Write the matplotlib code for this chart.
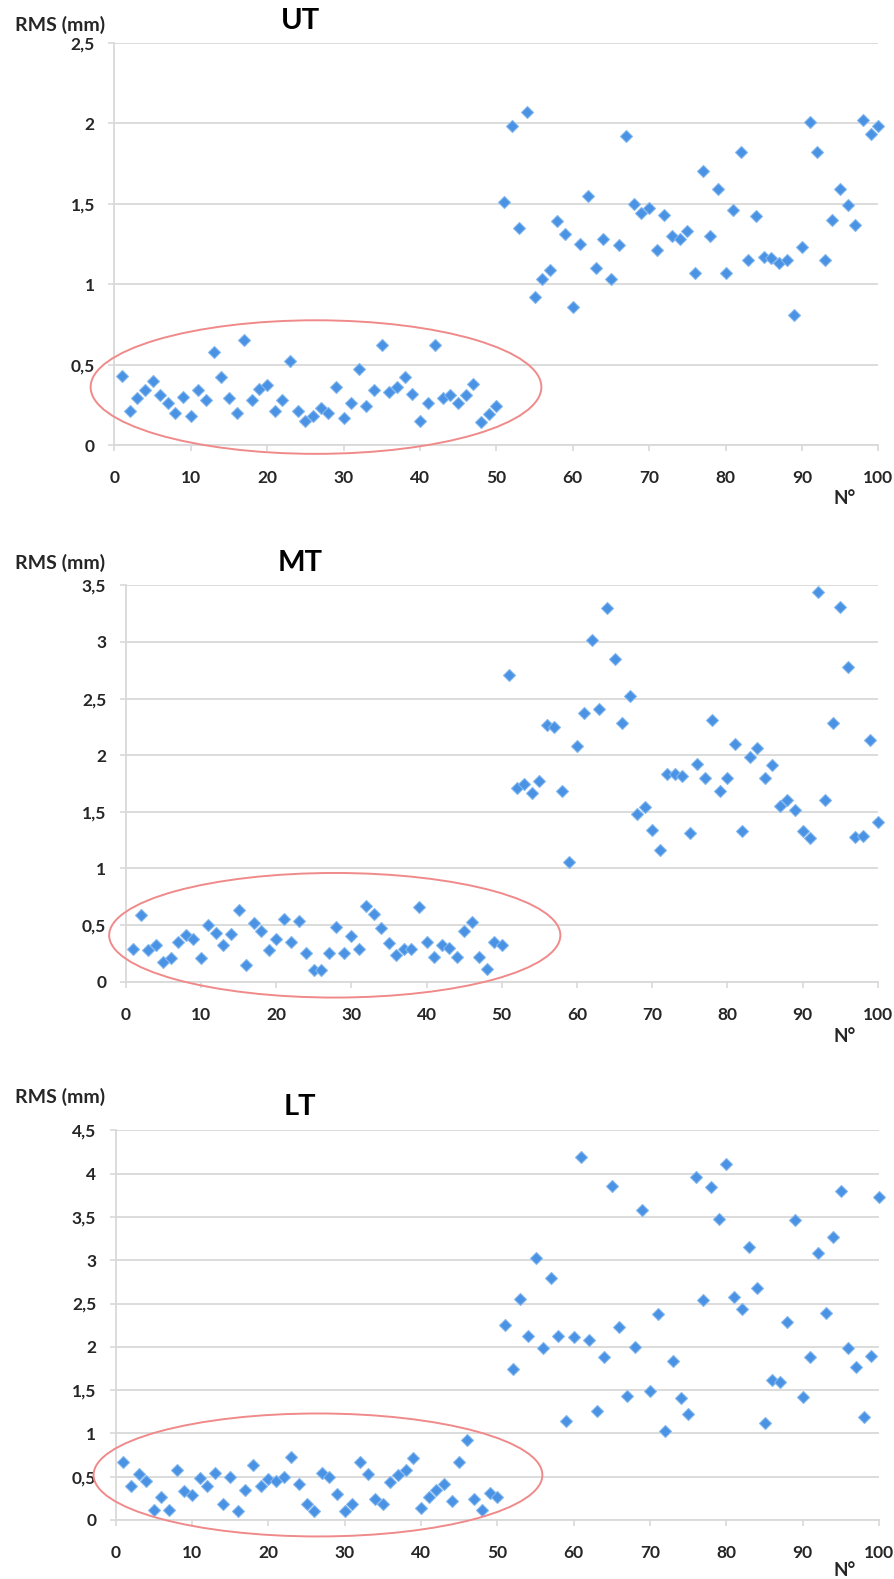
import matplotlib
matplotlib.use('Agg')
import matplotlib.pyplot as plt
from matplotlib.patches import Ellipse

plt.rcParams['font.family'] = ['Lato', 'DejaVu Sans']

N = list(range(1, 101))

ut_rms = [0.43, 0.21, 0.29, 0.34, 0.40, 0.31, 0.26, 0.20, 0.30, 0.18,
          0.34, 0.28, 0.58, 0.42, 0.29, 0.20, 0.65, 0.28, 0.35, 0.37,
          0.21, 0.28, 0.52, 0.21, 0.15, 0.18, 0.23, 0.20, 0.36, 0.17,
          0.26, 0.47, 0.24, 0.34, 0.62, 0.33, 0.36, 0.42, 0.32, 0.15,
          0.26, 0.62, 0.29, 0.31, 0.26, 0.31, 0.38, 0.14, 0.19, 0.24,
          1.51, 1.98, 1.35, 2.07, 0.92, 1.03, 1.09, 1.39, 1.31, 0.86,
          1.25, 1.55, 1.10, 1.28, 1.03, 1.24, 1.92, 1.50, 1.44, 1.47,
          1.21, 1.43, 1.30, 1.28, 1.33, 1.07, 1.70, 1.30, 1.59, 1.07,
          1.46, 1.82, 1.15, 1.42, 1.17, 1.16, 1.13, 1.15, 0.81, 1.23,
          2.01, 1.82, 1.15, 1.40, 1.59, 1.49, 1.37, 2.02, 1.93, 1.98]

mt_rms = [0.29, 0.59, 0.28, 0.32, 0.17, 0.21, 0.35, 0.41, 0.38, 0.21,
          0.50, 0.43, 0.32, 0.42, 0.63, 0.15, 0.52, 0.45, 0.28, 0.38,
          0.55, 0.35, 0.54, 0.25, 0.10, 0.10, 0.25, 0.48, 0.25, 0.40,
          0.29, 0.67, 0.60, 0.47, 0.34, 0.24, 0.29, 0.29, 0.66, 0.35,
          0.22, 0.32, 0.30, 0.22, 0.45, 0.53, 0.22, 0.11, 0.35, 0.32,
          2.71, 1.71, 1.75, 1.67, 1.77, 2.27, 2.25, 1.68, 1.06, 2.08,
          2.37, 3.02, 2.41, 3.30, 2.85, 2.28, 2.52, 1.48, 1.54, 1.34,
          1.16, 1.83, 1.83, 1.82, 1.31, 1.92, 1.80, 2.31, 1.68, 1.80,
          2.10, 1.33, 1.98, 2.06, 1.80, 1.91, 1.55, 1.60, 1.52, 1.33,
          1.27, 3.44, 1.60, 2.28, 3.31, 2.78, 1.28, 1.29, 2.13, 1.41]

lt_rms = [0.67, 0.39, 0.53, 0.45, 0.11, 0.26, 0.12, 0.58, 0.33, 0.29,
          0.49, 0.39, 0.54, 0.19, 0.50, 0.10, 0.35, 0.63, 0.39, 0.47,
          0.45, 0.50, 0.73, 0.42, 0.19, 0.10, 0.54, 0.50, 0.30, 0.10,
          0.19, 0.67, 0.53, 0.24, 0.19, 0.44, 0.52, 0.58, 0.72, 0.14,
          0.26, 0.35, 0.41, 0.22, 0.67, 0.92, 0.24, 0.12, 0.31, 0.26,
          2.25, 1.74, 2.55, 2.12, 3.02, 1.99, 2.79, 2.13, 1.14, 2.11,
          4.19, 2.08, 1.26, 1.88, 3.86, 2.23, 1.43, 2.00, 3.58, 1.49,
          2.38, 1.03, 1.84, 1.41, 1.22, 3.96, 2.54, 3.84, 3.48, 4.11,
          2.58, 2.44, 3.15, 2.68, 1.12, 1.62, 1.59, 2.29, 3.46, 1.42,
          1.88, 3.08, 2.39, 3.27, 3.80, 1.99, 1.77, 1.19, 1.89, 3.73]

x_ticks = [0, 10, 20, 30, 40, 50, 60, 70, 80, 90, 100]
ut_yticks = [0, 0.5, 1, 1.5, 2, 2.5]
ut_ylabels = ['0', '0,5', '1', '1,5', '2', '2,5']
mt_yticks = [0, 0.5, 1, 1.5, 2, 2.5, 3, 3.5]
mt_ylabels = ['0', '0,5', '1', '1,5', '2', '2,5', '3', '3,5']
lt_yticks = [0, 0.5, 1, 1.5, 2, 2.5, 3, 3.5, 4, 4.5]
lt_ylabels = ['0', '0,5', '1', '1,5', '2', '2,5', '3', '3,5', '4', '4,5']

W, H = 894, 1579
fig = plt.figure(figsize=(W / 100, H / 100), dpi=100)

GRID = '#d9d9d9'
TXT = '#262626'


def px_axes(left, top, right, bottom):
    return fig.add_axes([left / W, 1 - bottom / H, (right - left) / W, (bottom - top) / H])


def panel(box, values, yticks, ylabels, title, ell, title_y, label_y, n_y):
    ax = px_axes(*box)
    ax.plot(N, values, linestyle='none', marker='D', markersize=5.8,
            markerfacecolor='#4a92e3', markeredgecolor='#80b6ef',
            markeredgewidth=0.8, zorder=3, clip_on=False)
    ax.set_xlim(0, 100)
    ax.set_ylim(0, yticks[-1])
    ax.set_xticks(x_ticks)
    ax.set_xticklabels([str(t) for t in x_ticks])
    ax.set_yticks(yticks)
    ax.set_yticklabels(ylabels)
    ax.yaxis.grid(True, color=GRID, linewidth=1.3)
    ax.set_axisbelow(True)
    for s in ['top', 'right']:
        ax.spines[s].set_visible(False)
    for s in ['left', 'bottom']:
        ax.spines[s].set_color(GRID)
        ax.spines[s].set_linewidth(1.3)
    ax.tick_params(axis='x', colors=GRID, length=4, width=1.2, pad=14,
                   labelcolor=TXT, labelsize=12.5)
    ax.tick_params(axis='y', colors=GRID, length=4, width=1.2, pad=10,
                   labelcolor=TXT, labelsize=12.5)
    for lab in ax.get_xticklabels() + ax.get_yticklabels():
        lab.set_fontweight('bold')
    e = Ellipse(ell[0], ell[1], ell[2], fill=False, edgecolor='#f08a8a',
                linewidth=1.4, clip_on=False, zorder=4)
    ax.add_patch(e)
    fig.text(60 / W, 1 - label_y / H, 'RMS (mm)', ha='center', va='center',
             fontsize=14, fontweight='bold', color=TXT)
    fig.text(300 / W, 1 - title_y / H, title, ha='center', va='center',
             fontsize=21, fontweight='bold', color='black')
    fig.text(845 / W, 1 - n_y / H, 'N°', ha='center', va='center',
             fontsize=13.5, fontweight='bold', color=TXT)
    return ax


panel((114.3, 42.7, 878.3, 445), ut_rms, ut_yticks, ut_ylabels, 'UT',
      ((26.4, 0.36), 59, 0.83), 21, 25, 498)
panel((125.7, 585.3, 877.7, 981.7), mt_rms, mt_yticks, mt_ylabels, 'MT',
      ((27.8, 0.41), 60, 1.10), 563, 563, 1036)
panel((115.7, 1130.3, 879, 1520), lt_rms, lt_yticks, lt_ylabels, 'LT',
      ((26.5, 0.52), 58.8, 1.42), 1107, 1097, 1570)

fig.savefig('out.png', dpi=100)
